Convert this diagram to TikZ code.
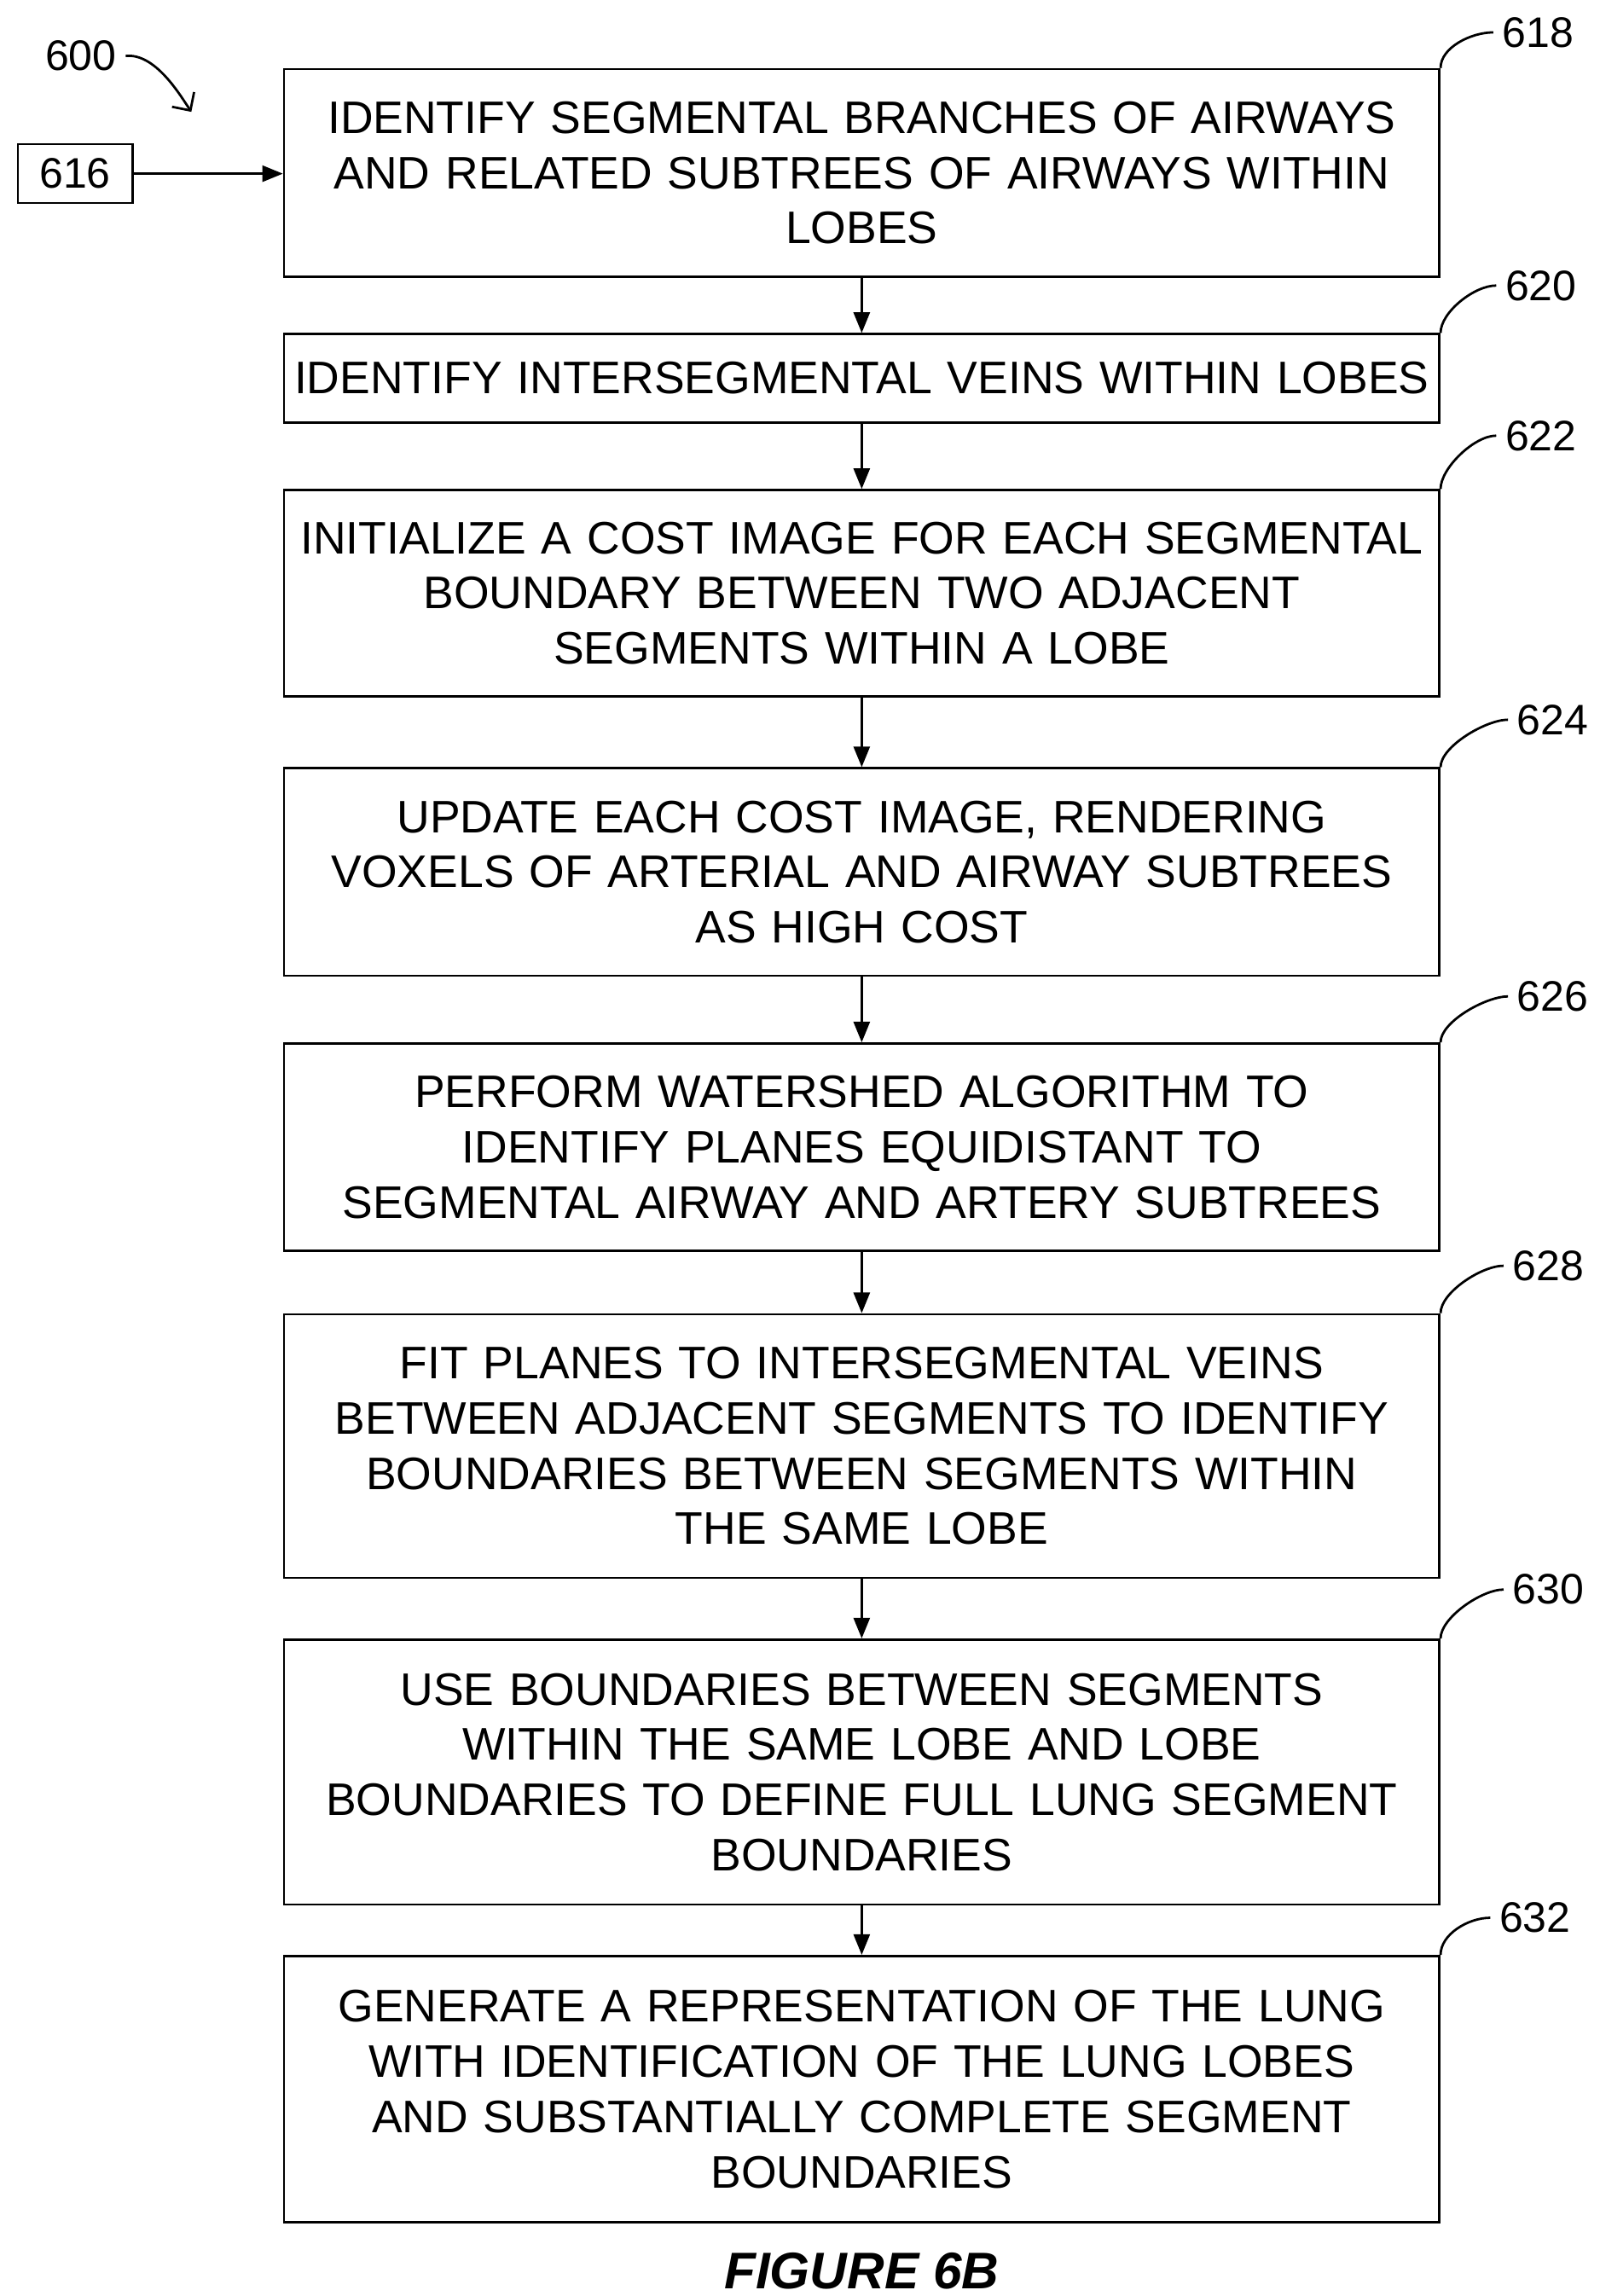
\documentclass[tikz,border=0pt]{standalone}
\usepackage{fontspec}
\setmainfont{Liberation Sans}
\usetikzlibrary{positioning,arrows.meta}
\tikzset{
  stepbox/.style={draw,line width=1.6pt,text width=785,align=center,inner sep=0pt,
    font=\fontsize{31}{37.5}\selectfont},
  num/.style={inner sep=0pt,font=\fontsize{29}{33}\selectfont},
  flow/.style={-{Triangle[length=14,width=11]},line width=1.6pt},
  lead/.style={line width=1.6pt}
}
\begin{document}
\begin{tikzpicture}[x=1pt,y=-1pt]
\path[use as bounding box,fill=white] (0,0) rectangle (1087,1560);
% steps
\node[stepbox,minimum height=141] (b618) at (585.5,117.5) {IDENTIFY SEGMENTAL BRANCHES OF AIRWAYS\\AND RELATED SUBTREES OF AIRWAYS WITHIN\\LOBES};
\node[stepbox,minimum height=60] (b620) at (585.5,257) {IDENTIFY INTERSEGMENTAL VEINS WITHIN LOBES};
\node[stepbox,minimum height=140] (b622) at (585.5,403) {INITIALIZE A COST IMAGE FOR EACH SEGMENTAL\\BOUNDARY BETWEEN TWO ADJACENT\\SEGMENTS WITHIN A LOBE};
\node[stepbox,minimum height=141] (b624) at (585.5,592.5) {UPDATE EACH COST IMAGE, RENDERING\\VOXELS OF ARTERIAL AND AIRWAY SUBTREES\\AS HIGH COST};
\node[stepbox,minimum height=141] (b626) at (585.5,779.5) {PERFORM WATERSHED ALGORITHM TO\\IDENTIFY PLANES EQUIDISTANT TO\\SEGMENTAL AIRWAY AND ARTERY SUBTREES};
\node[stepbox,minimum height=179] (b628) at (585.5,982.5) {FIT PLANES TO INTERSEGMENTAL VEINS\\BETWEEN ADJACENT SEGMENTS TO IDENTIFY\\BOUNDARIES BETWEEN SEGMENTS WITHIN\\THE SAME LOBE};
\node[stepbox,minimum height=180] (b630) at (585.5,1204) {USE BOUNDARIES BETWEEN SEGMENTS\\WITHIN THE SAME LOBE AND LOBE\\BOUNDARIES TO DEFINE FULL LUNG SEGMENT\\BOUNDARIES};
\node[stepbox,minimum height=181] (b632) at (585.5,1419.5) {GENERATE A REPRESENTATION OF THE LUNG\\WITH IDENTIFICATION OF THE LUNG LOBES\\AND SUBSTANTIALLY COMPLETE SEGMENT\\BOUNDARIES};
% input
\node[draw,line width=1.4pt,minimum width=78,minimum height=40,num] (b616) at (51,118) {616};
\draw[flow] (b616) -- (b618.west |- b616);
% arrows
\foreach \a/\b in {618/620,620/622,622/624,624/626,626/628,628/630,630/632}
  \draw[flow] (b\a) -- (b\b);
% reference numerals
\foreach \b/\x/\y in {618/1045/22,620/1047/194,622/1047/296,624/1055/489,626/1055/677,628/1052/860,630/1052/1080,632/1043/1303}{
  \node[num] (n\b) at (\x,\y) {\b};
  \draw[lead] (b\b.north east) .. controls +(0,-14) and +(-15,0) .. ([xshift=-6pt]n\b.west);
}
\node[num] (n600) at (55,38) {600};
\coordinate (p600) at (130,76);
\draw[line width=1.6pt,-{Straight Barb[length=9]}] ([xshift=6pt]n600.east) .. controls +(20,-2) and +(-8,-12) .. (p600);
\node[font=\fontsize{35}{40}\selectfont\bfseries\itshape] (cap) at (585.5,1543) {FIGURE 6B};
\end{tikzpicture}
\end{document}
